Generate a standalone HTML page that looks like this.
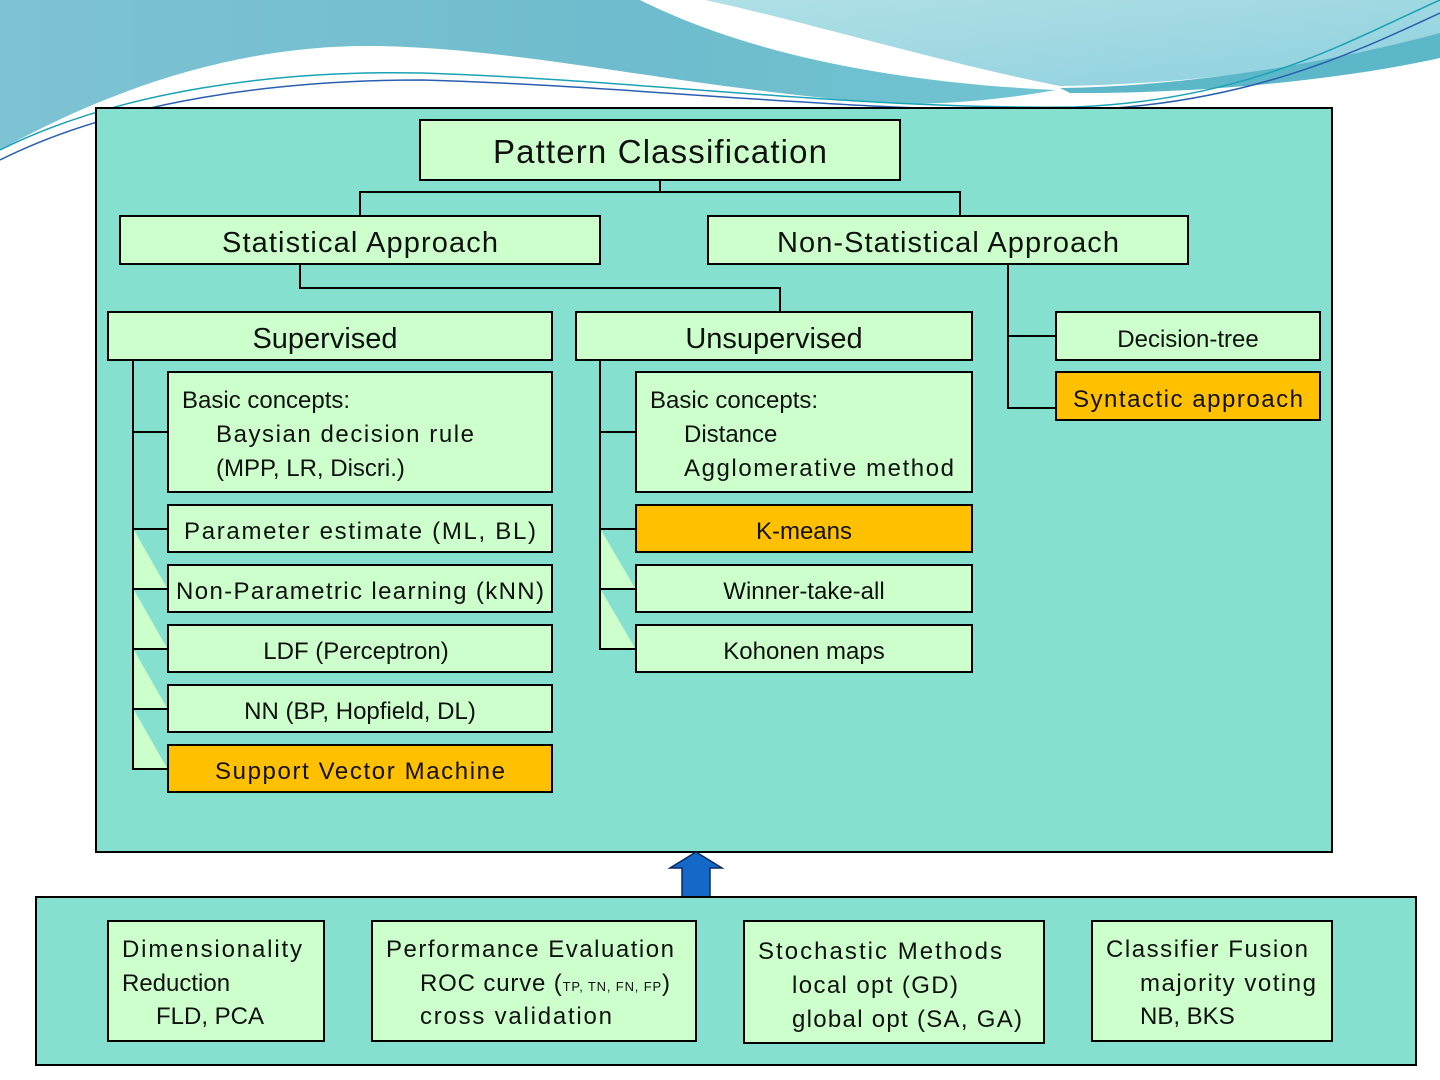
<!DOCTYPE html>
<html><head><meta charset="utf-8"><style>
html,body{margin:0;padding:0;background:#fff;}
svg{display:block;}
text{font-family:"Liberation Sans",sans-serif;fill:#111;}
</style></head><body>
<svg width="1440" height="1080" viewBox="0 0 1440 1080" xmlns="http://www.w3.org/2000/svg">
<defs>
<linearGradient id="bg1" x1="0" y1="0" x2="1" y2="0">
<stop offset="0" stop-color="#7ec3d4"/><stop offset="0.6" stop-color="#6ebccd"/><stop offset="1" stop-color="#70c4d2"/>
</linearGradient>
<linearGradient id="bg2" x1="0" y1="0" x2="1" y2="1">
<stop offset="0" stop-color="#b0e0e6"/><stop offset="1" stop-color="#8fd0de"/>
</linearGradient>
</defs>
<rect width="1440" height="1080" fill="#fff"/>
<path d="M0,0 H640 C740,50 880,82 1056,90 C1000,100 950,104 900,104 C700,92 520,46 367,46 C220,46 90,100 0,150 Z" fill="url(#bg1)"/>
<path d="M705,0 H1440 V40 C1350,60 1200,85 1060,86 C930,60 820,25 705,0 Z" fill="url(#bg2)"/>
<path d="M1060,88 C1200,86 1340,60 1440,33 V58 C1340,80 1200,94 1070,93 Z" fill="#5cb7c9"/>
<path d="M0,150 C120,90 280,70 422,73 C640,80 860,110 1075,107 C1250,100 1350,40 1440,0" fill="none" stroke="#1aa3b5" stroke-width="1.5"/>
<path d="M0,160 C120,100 280,80 422,80 C640,86 860,114 1080,110 C1250,104 1360,50 1440,13" fill="none" stroke="#2a5fb0" stroke-width="1.5"/>
<rect x="96" y="108" width="1236" height="744" fill="#86e0d0" stroke="#000" stroke-width="2"/>
<g stroke="#000" stroke-width="2" fill="none">
<path d="M660,180 V192 M360,216 V192 H960 V216"/>
<path d="M300,264 V288 H780 V312"/>
<path d="M1008,264 V408 H1056 M1008,336 H1056"/>
<path d="M133,360 V769 H168 M133,432 H168 M133,529 H168 M133,589 H168 M133,649 H168 M133,709 H168"/>
<path d="M600,360 V649 H636 M600,432 H636 M600,529 H636 M600,589 H636"/>
</g>
<g fill="#ccffcc">
<polygon points="134,530 134,588 167,588"/>
<polygon points="134,590 134,648 167,648"/>
<polygon points="134,650 134,708 167,708"/>
<polygon points="134,710 134,768 167,768"/>
<polygon points="601,530 601,588 635,588"/>
<polygon points="601,590 601,648 635,648"/>
</g>
<g stroke="#000" stroke-width="2">
<rect x="420" y="120" width="480" height="60" fill="#ccffcc"/>
<rect x="120" y="216" width="480" height="48" fill="#ccffcc"/>
<rect x="708" y="216" width="480" height="48" fill="#ccffcc"/>
<rect x="108" y="312" width="444" height="48" fill="#ccffcc"/>
<rect x="576" y="312" width="396" height="48" fill="#ccffcc"/>
<rect x="1056" y="312" width="264" height="48" fill="#ccffcc"/>
<rect x="1056" y="372" width="264" height="48" fill="#ffc000"/>
<rect x="168" y="372" width="384" height="120" fill="#ccffcc"/>
<rect x="168" y="505" width="384" height="47" fill="#ccffcc"/>
<rect x="168" y="565" width="384" height="47" fill="#ccffcc"/>
<rect x="168" y="625" width="384" height="47" fill="#ccffcc"/>
<rect x="168" y="685" width="384" height="47" fill="#ccffcc"/>
<rect x="168" y="745" width="384" height="47" fill="#ffc000"/>
<rect x="636" y="372" width="336" height="120" fill="#ccffcc"/>
<rect x="636" y="505" width="336" height="47" fill="#ffc000"/>
<rect x="636" y="565" width="336" height="47" fill="#ccffcc"/>
<rect x="636" y="625" width="336" height="47" fill="#ccffcc"/>
</g>
<g text-anchor="middle">
<text x="660" y="163" font-size="33" textLength="334">Pattern Classification</text>
<text x="360" y="252" font-size="29" textLength="276">Statistical Approach</text>
<text x="948" y="252" font-size="29" textLength="342">Non-Statistical Approach</text>
<text x="325" y="348" font-size="29">Supervised</text>
<text x="774" y="348" font-size="29">Unsupervised</text>
<text x="1188" y="347" font-size="24">Decision-tree</text>
<text x="1188" y="407" font-size="24" textLength="230">Syntactic approach</text>
<text x="360" y="539" font-size="24" textLength="352">Parameter estimate (ML, BL)</text>
<text x="360" y="599" font-size="24" textLength="368">Non-Parametric learning (kNN)</text>
<text x="356" y="659" font-size="24">LDF (Perceptron)</text>
<text x="360" y="719" font-size="24">NN (BP, Hopfield, DL)</text>
<text x="360" y="779" font-size="24" textLength="290">Support Vector Machine</text>
<text x="804" y="539" font-size="24">K-means</text>
<text x="804" y="599" font-size="24">Winner-take-all</text>
<text x="804" y="659" font-size="24">Kohonen maps</text>
</g>
<g font-size="24">
<text x="182" y="408">Basic concepts:</text>
<text x="216" y="442" textLength="258">Baysian decision rule</text>
<text x="216" y="476">(MPP, LR, Discri.)</text>
<text x="650" y="408">Basic concepts:</text>
<text x="684" y="442">Distance</text>
<text x="684" y="476" textLength="270">Agglomerative method</text>
</g>
<polygon points="696,852 722,868 710,868 710,900 682,900 682,868 670,868" fill="#1468c8" stroke="#0a2a60" stroke-width="1.5"/>
<rect x="36" y="897" width="1380" height="168" fill="#86e0d0" stroke="#000" stroke-width="2"/>
<g stroke="#000" stroke-width="2" fill="#ccffcc">
<rect x="108" y="921" width="216" height="120"/>
<rect x="372" y="921" width="324" height="120"/>
<rect x="744" y="921" width="300" height="122"/>
<rect x="1092" y="921" width="240" height="120"/>
</g>
<g font-size="24">
<text x="122" y="957" textLength="180">Dimensionality</text>
<text x="122" y="991">Reduction</text>
<text x="156" y="1024">FLD, PCA</text>
<text x="386" y="957" textLength="288">Performance Evaluation</text>
<text x="420" y="991" textLength="250">ROC curve (<tspan font-size="13">TP, TN, FN, FP</tspan>)</text>
<text x="420" y="1024" textLength="192">cross validation</text>
<text x="758" y="959" textLength="244">Stochastic Methods</text>
<text x="792" y="993" textLength="166">local opt (GD)</text>
<text x="792" y="1027" textLength="230">global opt (SA, GA)</text>
<text x="1106" y="957" textLength="202">Classifier Fusion</text>
<text x="1140" y="991" textLength="176">majority voting</text>
<text x="1140" y="1024">NB, BKS</text>
</g>
</svg>
</body></html>
